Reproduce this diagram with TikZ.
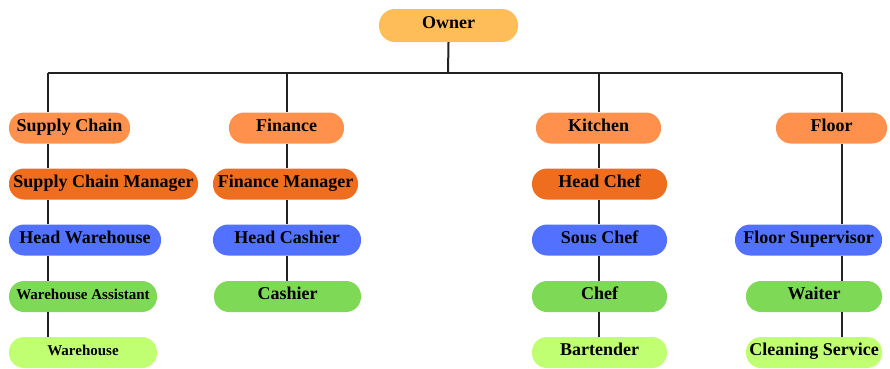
\documentclass[tikz,border=0pt]{standalone}
\usepackage{fontspec}
\setmainfont{Liberation Serif}
\usepackage{xcolor}
\usepackage{tikz}
\usetikzlibrary{positioning}
\definecolor{ink}{HTML}{222222}
\definecolor{peach}{HTML}{FFBD59}
\definecolor{tangerine}{HTML}{FF914D}
\definecolor{rust}{HTML}{EF6D1F}
\definecolor{cobalt}{HTML}{5271FF}
\definecolor{leaf}{HTML}{7ED957}
\definecolor{lime}{HTML}{C1FF72}
\tikzset{
  every node/.style={font=\bfseries\fontsize{18}{20}\selectfont},
  pill/.style={rounded corners=15pt,draw=none,minimum height=31pt,inner sep=0pt,
    text height=0.85em,text depth=0.2em,align=center},
  own/.style={pill,fill=peach,minimum height=33pt,rounded corners=16pt},
  dept/.style={pill,fill=tangerine},
  mgr/.style={pill,fill=rust},
  lead/.style={pill,fill=cobalt},
  staff/.style={pill,fill=leaf},
  crew/.style={pill,fill=lime},
  small/.style={font=\bfseries\fontsize{15}{17}\selectfont},
  link/.style={ink,line width=2pt},
}
\begin{document}
\begin{tikzpicture}[x=1pt,y=-1pt]
  \useasboundingbox (0,0) rectangle (890,368);
  % top
  \node[own,minimum width=139pt] (own) at (448.5,25.5) {Owner};
  % departments
  \node[dept,minimum width=121pt] (sc) at (69.5,128) {Supply Chain};
  \node[dept,minimum width=115pt] (fin) at (286.5,128) {Finance};
  \node[dept,minimum width=125pt] (kit) at (598.5,128) {Kitchen};
  \node[dept,minimum width=111pt] (flo) at (831.5,128) {Floor};
  % managers
  \node[mgr,minimum width=189pt] (scm) at (103.5,184) {Supply Chain Manager};
  \node[mgr,minimum width=145pt] (finm) at (285.5,184) {Finance Manager};
  \node[mgr,minimum width=135pt] (hchef) at (599.5,184) {Head Chef};
  % leads
  \node[lead,minimum width=152pt] (hware) at (85,240) {Head Warehouse};
  \node[lead,minimum width=148pt] (hcash) at (287,240) {Head Cashier};
  \node[lead,minimum width=135pt] (sous) at (599.5,240) {Sous Chef};
  \node[lead,minimum width=147pt] (fsup) at (808.5,240) {Floor Supervisor};
  % staff
  \node[staff,small,minimum width=148pt] (wass) at (83,296.5) {Warehouse Assistant};
  \node[staff,minimum width=147pt] (cash) at (287.5,296.5) {Cashier};
  \node[staff,minimum width=135pt] (chef) at (599.5,296.5) {Chef};
  \node[staff,minimum width=136pt] (wait) at (814,296.5) {Waiter};
  % bottom row
  \node[crew,small,minimum width=148pt] (ware) at (83,352.5) {Warehouse};
  \node[crew,minimum width=135pt] (bar) at (599.5,352.5) {Bartender};
  \node[crew,minimum width=136pt] (clean) at (814,352.5) {Cleaning Service};
  % column lines
  \coordinate (bus) at (448,72.5);
  \coordinate (cA) at (47.5,0);
  \coordinate (cB) at (286.5,0);
  \coordinate (cC) at (598.5,0);
  \coordinate (cD) at (842,0);
  \draw[link] (own.south) -- (bus);
  \draw[link] (cA |- bus) -- (cD |- bus);
  \draw[link] (cA |- bus) -- (cA |- sc.north);
  \draw[link] (cB |- bus) -- (cB |- fin.north);
  \draw[link] (cC |- bus) -- (cC |- kit.north);
  \draw[link] (cD |- bus) -- (cD |- flo.north);
  \draw[link] (cA |- sc.south) -- (cA |- scm.north);
  \draw[link] (cA |- scm.south) -- (cA |- hware.north);
  \draw[link] (cA |- hware.south) -- (cA |- wass.north);
  \draw[link] (cA |- wass.south) -- (cA |- ware.north);
  \draw[link] (cB |- fin.south) -- (cB |- finm.north);
  \draw[link] (cB |- finm.south) -- (cB |- hcash.north);
  \draw[link] (cB |- hcash.south) -- (cB |- cash.north);
  \draw[link] (cC |- kit.south) -- (cC |- hchef.north);
  \draw[link] (cC |- hchef.south) -- (cC |- sous.north);
  \draw[link] (cC |- sous.south) -- (cC |- chef.north);
  \draw[link] (cC |- chef.south) -- (cC |- bar.north);
  \draw[link] (cD |- flo.south) -- (cD |- fsup.north);
  \draw[link] (cD |- fsup.south) -- (cD |- wait.north);
  \draw[link] (cD |- wait.south) -- (cD |- clean.north);
\end{tikzpicture}
\end{document}
